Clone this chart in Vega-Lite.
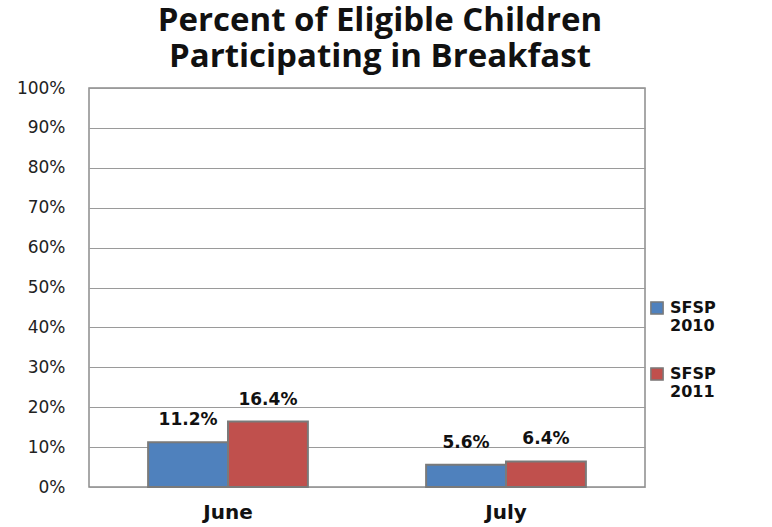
{
  "$schema": "https://vega.github.io/schema/vega-lite/v6.json",
  "width": 556,
  "height": 399,
  "autosize": {"type": "none"},
  "padding": {"left": 89, "top": 88, "right": 127, "bottom": 40},
  "background": "white",
  "title": {
    "text": ["Percent of Eligible Children", "Participating in Breakfast"],
    "font": "Open Sans",
    "fontSize": 33,
    "fontWeight": "bold",
    "color": "#111111",
    "lineHeight": 36,
    "anchor": "middle",
    "dx": 13,
    "offset": 5
  },
  "config": {
    "view": {"stroke": "#8c8c8c", "strokeWidth": 1.5},
    "font": "DejaVu Sans"
  },
  "data": {
    "values": [
      {"month": "June", "series": "SFSP 2010", "value": 0.112},
      {"month": "June", "series": "SFSP 2011", "value": 0.164},
      {"month": "July", "series": "SFSP 2010", "value": 0.056},
      {"month": "July", "series": "SFSP 2011", "value": 0.064}
    ]
  },
  "encoding": {
    "x": {
      "field": "month",
      "type": "nominal",
      "sort": ["June", "July"],
      "scale": {"paddingInner": 0, "paddingOuter": 0},
      "axis": {
        "title": null,
        "labelAngle": 0,
        "labelFont": "DejaVu Sans",
        "labelFontSize": 20,
        "labelFontWeight": "bold",
        "labelColor": "#111111",
        "labelPadding": 15,
        "ticks": false,
        "domain": false
      }
    },
    "xOffset": {
      "field": "series",
      "type": "nominal",
      "scale": {"paddingInner": 0, "paddingOuter": 0.74}
    },
    "y": {
      "field": "value",
      "type": "quantitative",
      "scale": {"domain": [0, 1], "nice": false},
      "axis": {
        "title": null,
        "format": ".0%",
        "values": [0, 0.1, 0.2, 0.3, 0.4, 0.5, 0.6, 0.7, 0.8, 0.9, 1],
        "labelOverlap": false,
        "labelFont": "DejaVu Sans",
        "labelFontSize": 17,
        "labelColor": "#222222",
        "labelPadding": 24,
        "ticks": false,
        "domain": false,
        "gridColor": "#9a9a9a",
        "gridWidth": 1
      }
    }
  },
  "layer": [
    {
      "mark": {"type": "bar", "stroke": "#7a7a7a", "strokeWidth": 2},
      "encoding": {
        "color": {
          "field": "series",
          "type": "nominal",
          "scale": {"domain": ["SFSP 2010", "SFSP 2011"], "range": ["#4F81BD", "#C0504D"]},
          "legend": {
            "title": null,
            "orient": "none",
            "legendX": 560,
            "legendY": 212,
            "symbolType": "square",
            "symbolSize": 150,
            "symbolStrokeColor": "#7a7a7a",
            "symbolStrokeWidth": 1.5,
            "labelFont": "DejaVu Sans",
            "labelFontSize": 16,
            "labelFontWeight": "bold",
            "labelColor": "#111111",
            "labelExpr": "split(datum.label, ' ')",
            "labelBaseline": "middle",
            "labelOffset": 5,
            "rowPadding": 30
          }
        }
      }
    },
    {
      "mark": {"type": "text", "dy": -22, "font": "DejaVu Sans", "fontSize": 17, "fontWeight": "bold", "color": "#111111"},
      "encoding": {
        "text": {"field": "value", "type": "quantitative", "format": ".1%"}
      }
    }
  ]
}
